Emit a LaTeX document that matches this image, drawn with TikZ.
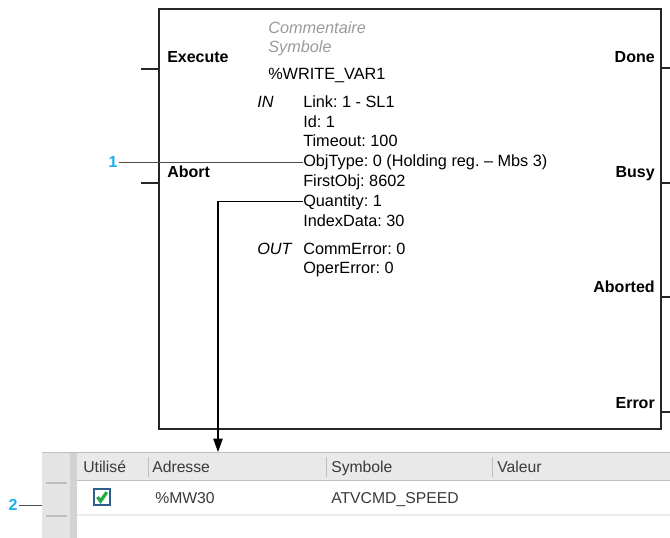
\documentclass[tikz,border=0pt]{standalone}
\usepackage{fontspec}
\setmainfont{Liberation Sans}
\usepackage{tikz}
\usetikzlibrary{arrows.meta, positioning, fit, calc}
\frenchspacing
\definecolor{calloutcyan}{HTML}{1CB0EA}
\definecolor{commentgray}{HTML}{9A9A9A}
\definecolor{panelgray}{HTML}{E4E4E4}
\definecolor{stripgray}{HTML}{D2D2D2}
\definecolor{headgray}{HTML}{E9E9E9}
\definecolor{edgegray}{HTML}{BEBEBE}
\definecolor{rowgray}{HTML}{EBEBEB}
\definecolor{cellink}{HTML}{3A3A3A}
\definecolor{boxblue}{HTML}{2E5E8E}
\definecolor{checkgreen}{HTML}{23A846}

\begin{document}
\begin{tikzpicture}[x=0.75pt, y=-0.75pt,
  txt/.style={anchor=base west, inner sep=0pt, font=\fontsize{12.2}{14}\selectfont},
  cmt/.style={txt, text=commentgray, font=\fontsize{12.2}{14}\selectfont\itshape},
  pinl/.style={txt, font=\fontsize{12}{14}\selectfont\bfseries},
  pinr/.style={pinl, anchor=base east},
  callout/.style={inner sep=1pt, text=calloutcyan, font=\fontsize{12}{14}\selectfont\bfseries},
  lead/.style={draw=black!70, line width=0.6pt},
  pin/.style={draw=black!85, line width=0.8pt},
  cell/.style={txt, text=cellink, font=\fontsize{11.8}{14}\selectfont}
]
\useasboundingbox (0,0) rectangle (670,538);

% function block
\node[fit={(159,9) (661,429)}, inner sep=0pt, draw=black!85, line width=1pt] (fb) {};
\draw[pin] (fb.west |- 0,69) -- (141,69);
\draw[pin] (fb.west |- 0,183) -- (141,183);
\draw[pin] (fb.east |- 0,68) -- (670,68);
\draw[pin] (fb.east |- 0,183) -- (670,183);
\draw[pin] (fb.east |- 0,297) -- (670,297);
\draw[pin] (fb.east |- 0,412) -- (670,412);

\node[pinl] (execute) at (167,63) {Execute};
\node[pinl] (abort) at (167,178) {Abort};
\node[pinr] (done) at (655,63) {Done};
\node[pinr] (busy) at (655,178) {Busy};
\node[pinr] (aborted) at (655,292) {Aborted};
\node[pinr] (error) at (655,408) {Error};

\node[cmt] (comment) at (268,34) {Commentaire};
\node[cmt] (symbol) at (268,53) {Symbole};
\node[txt] (inst) at (268,80) {\%WRITE\_VAR1};

\node[txt, font=\fontsize{12.2}{14}\selectfont\itshape] (inlbl) at (257,108) {IN};
\node[txt] (link) at (303,108) {Link: 1 - SL1};
\node[txt] (ident) at (303,128) {Id: 1};
\node[txt] (timeout) at (303,147) {Timeout: 100};
\node[txt] (objtype) at (303,167) {ObjType: 0 (Holding reg. -- Mbs 3)};
\node[txt] (firstobj) at (303,187) {FirstObj: 8602};
\node[txt] (qty) at (303,206) {Quantity: 1};
\node[txt] (indexdata) at (303,226) {IndexData: 30};

\node[txt, font=\fontsize{12.2}{14}\selectfont\itshape] (outlbl) at (257,254) {OUT};
\node[txt] (commerr) at (303,254) {CommError: 0};
\node[txt] (opererr) at (303,273) {OperError: 0};

% variable table
\fill[panelgray] (42,453) rectangle (670,538);
\fill[headgray] (77,453) rectangle (670,480);
\fill[white] (77,481) rectangle (670,538);
\fill[stripgray] (70,453) rectangle (77,538);
\node[fit={(42,453) (670,538)}, inner sep=0pt] (tbl) {};
\draw[edgegray, line width=1pt] (tbl.north west) -- (tbl.north east);
\draw[edgegray, line width=0.8pt] (77,480.5) -- (670,480.5);
\draw[rowgray, line width=1.2pt] (77,515) -- (670,515);
\draw[edgegray, line width=0.8pt] (46,483) -- (67,483);
\draw[edgegray, line width=0.8pt] (46,516) -- (67,516);
\foreach \sx in {148,326,492}
  \draw[edgegray, line width=0.6pt] (\sx,457) -- (\sx,477);

\node[cell] (hdused) at (83,472) {Utilisé};
\node[cell] (hdaddr) at (152,472) {Adresse};
\node[cell] (hdsym) at (331,472) {Symbole};
\node[cell] (hdval) at (497,472) {Valeur};

\node[draw=boxblue, fill=white, line width=1.3pt, minimum size=12pt, inner sep=0pt] (chk) at (102,497) {};
\draw[checkgreen, line width=2.4pt] ([shift={(-4.5,0)}]chk.center) -- ([shift={(-1.5,4.2)}]chk.center) -- ([shift={(4.8,-4.8)}]chk.center);
\node[cell] (celaddr) at (155,503) {\%MW30};
\node[cell] (celsym) at (331,503) {ATVCMD\_SPEED};

% callouts
\node[callout] (c1) at (113,162) {1};
\draw[lead] (c1.east) -- (c1.east -| objtype.west);
\node[callout] (c2) at (13,505) {2};
\draw[lead] (c2.east) -- (c2.east -| tbl.west);

\coordinate (tip) at (218,452);
\draw[line width=0.9pt, -{Triangle[length=10pt, width=7pt]}] (qty.west) -| (tip);
\end{tikzpicture}
\end{document}
